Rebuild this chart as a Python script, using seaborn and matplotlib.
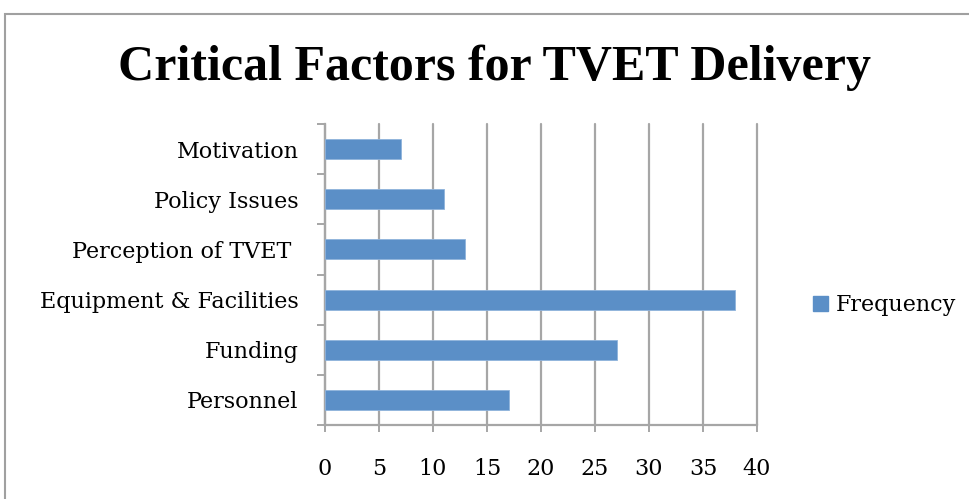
import matplotlib
matplotlib.use("Agg")
import matplotlib.pyplot as plt
import seaborn as sns
import pandas as pd
import numpy as np
from matplotlib.patches import Rectangle, Patch

categories = ["Motivation", "Policy Issues", "Perception of TVET ", "Equipment & Facilities", "Funding", "Personnel"]
frequency = [7, 11, 13, 38, 27, 17]
xticks = [0, 5, 10, 15, 20, 25, 30, 35, 40]
series_name = "Frequency"
title = "Critical Factors for TVET Delivery"

df = pd.DataFrame({"Factor": categories, series_name: frequency})

sns.set_theme(style="white")
plt.rcParams['font.family'] = ['DejaVu Serif', 'Liberation Serif']

W, H = 970, 499
fig = plt.figure(figsize=(W/100, H/100), dpi=100)
ax = fig.add_axes([325/W, 1-425/H, (757-325)/W, (425-124)/H])

bar_color = "#5B8FC7"
grid_color = "#A6A6A6"
label_size = 16

sns.barplot(data=df, y="Factor", x=series_name, order=categories, orient="h",
            color=bar_color, width=0.4, saturation=1, ax=ax, zorder=3,
            edgecolor="#8FB3DC", linewidth=0.6)

ax.set_xlim(0, 40)
ax.set_ylim(len(categories)-0.5, -0.5)
ax.set_xticks(xticks)
ax.set_xticklabels([str(v) for v in xticks])
ax.xaxis.grid(True, color=grid_color, linewidth=1.6, zorder=0)
for gl in ax.get_xgridlines():
    gl.set_clip_on(False)
ax.set_axisbelow(True)
ax.set_xlabel("")
ax.set_ylabel("")

for s in ["top", "right"]:
    ax.spines[s].set_visible(False)
for s in ["left", "bottom"]:
    ax.spines[s].set_color(grid_color)
    ax.spines[s].set_linewidth(1.6)

ax.tick_params(axis="x", which="major", length=5, width=1.4, color=grid_color,
               direction="out", pad=19, labelsize=label_size, labelcolor="black", bottom=True)
ax.set_yticks(range(len(categories)))
ax.set_yticklabels(categories)
ax.tick_params(axis="y", which="major", length=0, pad=19, labelsize=label_size, labelcolor="black")
ax.set_yticks(np.arange(-0.5, len(categories), 1), minor=True)
ax.tick_params(axis="y", which="minor", length=6, width=1.4, color=grid_color, direction="out", left=True)

fig.text(495/W, 1-68/H, title, ha="center", va="center", fontsize=36, fontweight="bold",
         color="black", family=["Liberation Serif", "DejaVu Serif"])

handle = Patch(facecolor=bar_color, edgecolor=bar_color)
fig.legend([handle], [series_name], loc="center left", bbox_to_anchor=(802/W, 1-305/H),
           frameon=False, fontsize=label_size, handlelength=0.65, handleheight=0.65,
           handletextpad=0.35, borderpad=0, labelcolor="black")

fig.patches.append(Rectangle((5/W, -0.1), 1.2, (1-14/H)+0.1, transform=fig.transFigure,
                             fill=False, edgecolor="#A0A0A0", linewidth=1.5))

fig.savefig("out.png", dpi=100)
